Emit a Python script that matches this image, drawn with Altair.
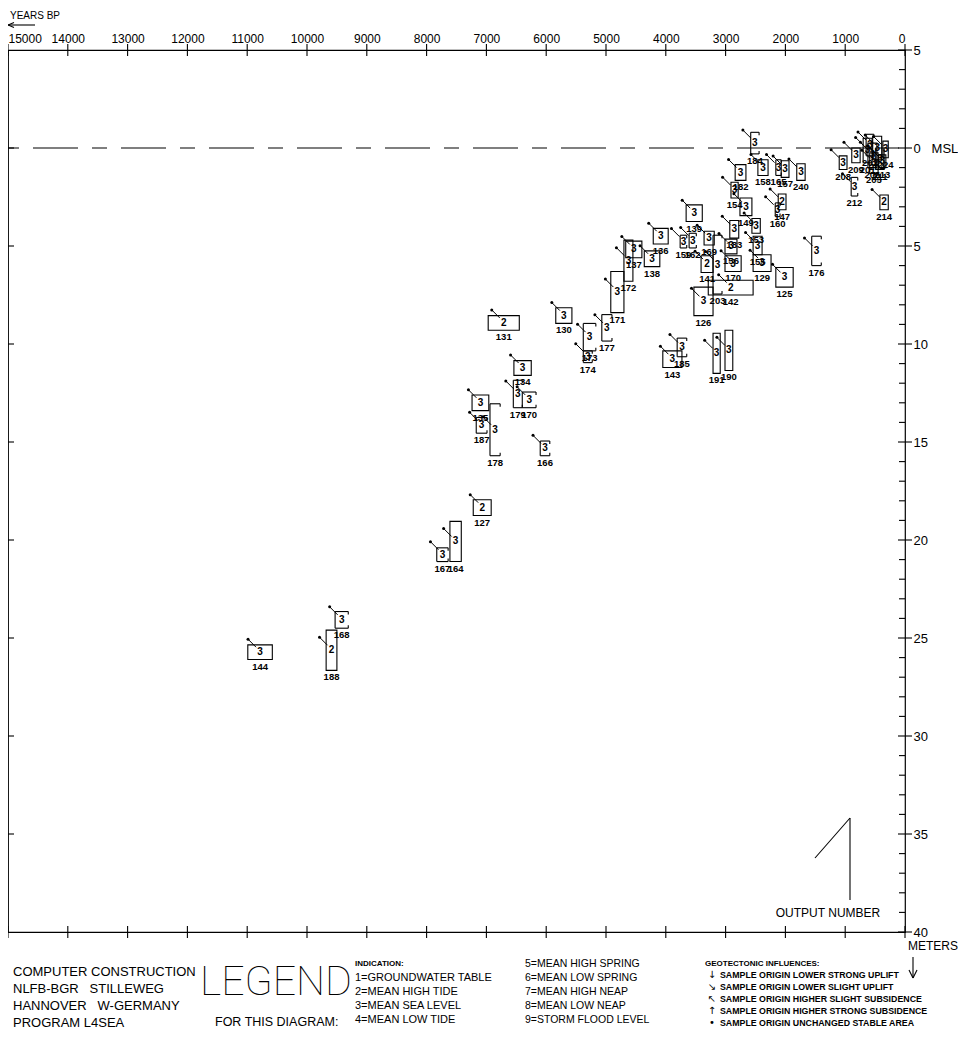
import altair as alt
import pandas as pd

# ---------------- data ----------------
sample_id = ["144","188","168","167","164","127","135","178","187","166",
             "131","130","134","179","170","171","177","173","174","172",
             "137","138","136","159","162","169","141","203","170","156",
             "183","142","126","129","155","125","176","184","182","154",
             "149","158","165","157","240","147","160","208","209","212",
             "214","139","153","185","143","191","190","201","206","204",
             "211","205","224","202","213"]
indication = [3,2,3,3,3,2,3,3,3,3, 2,3,3,3,3,3,3,3,3,3, 3,3,3,3,3,3,2,3,3,3,
              3,2,3,3,3,3,3,3,3,3, 3,3,3,3,3,2,3,3,3,3, 2,3,3,3,3,3,3,3,3,3,
              3,3,3,3,3]
shape = ["box","box","open","open","box","box","box","open","open","open",
         "box","box","box","open","open","box","open","open","open","box",
         "box","box","box","open","open","box","box","open","box","box",
         "box","box","box","box","box","box","open","open","box","box",
         "box","box","open","box","box","box","open","box","box","open",
         "box","box","box","open","box","box","box","box","box","box",
         "box","box","box","open","box"]
age_old = [10990,9680,9530,7830,7610,7220,7240,6940,7170,6100,
           6970,5840,6540,6550,6400,4920,5070,5380,5380,4700,
           4670,4360,4210,3760,3610,3360,3410,3210,3010,3010,
           2930,3290,3530,2540,2540,2160,1560,2580,2840,2910,
           2760,2460,2160,2070,1810,2120,2170,1100,890,900,
           420,3660,2560,3810,4050,3210,3010,700,620,540,
           490,590,370,650,440]
age_young = [10580,9500,9310,7640,7420,6920,6960,6770,6990,5940,
             6450,5570,6250,6400,6170,4700,4900,5170,5230,4550,
             4400,4100,3960,3650,3490,3190,3210,3060,2740,2810,
             2780,2540,3210,2240,2390,1870,1400,2440,2660,2790,
             2560,2290,2070,1940,1670,1990,2090,970,750,790,
             280,3390,2420,3650,3730,3090,2880,550,470,390,
             350,450,280,520,320]
depth_top = [25.35,24.6,23.65,20.4,19.05,17.95,12.6,13.05,13.75,14.95,
             8.55,8.15,10.85,11.85,12.45,6.3,8.5,8.95,10.35,4.7,
             4.75,5.25,4.1,4.45,4.35,4.25,5.5,4.45,5.5,4.65,
             3.7,6.75,7.1,5.45,4.5,6.1,4.5,-0.8,0.85,1.75,
             2.55,0.6,0.6,0.65,0.8,2.35,2.8,0.4,0.0,1.5,
             2.4,2.9,3.6,9.7,10.35,9.45,9.3,-0.5,-0.25,-0.6,
             0.0,0.25,-0.35,-0.7,0.35]
depth_bottom = [26.1,26.65,24.5,21.1,21.1,18.75,13.4,15.7,14.55,15.7,
                9.3,8.95,11.6,13.25,13.25,8.4,9.85,10.35,10.95,6.8,
                5.6,6.05,4.9,5.1,5.1,4.95,6.35,7.45,6.3,5.4,
                4.6,7.5,8.55,6.3,5.45,7.1,6.0,0.3,1.65,2.55,
                3.45,1.4,1.4,1.5,1.65,3.15,3.5,1.1,0.75,2.45,
                3.15,3.75,4.35,10.65,11.2,11.5,11.35,0.75,1.0,0.6,
                1.1,1.3,0.5,0.4,1.0]

x_ticks = [0,1000,2000,3000,4000,5000,6000,7000,8000,9000,10000,11000,12000,13000,14000,15000]
y_major = [-5,0,5,10,15,20,25,30,35,40]
y_minor = [-4,-3,-2,-1,1,2,3,4,6,7,8,9,11,12,13,14,16,17,18,19,21,22,23,24,
           26,27,28,29,31,32,33,34,36,37,38,39]
left_ticks = [0,5,10,15,20,25,30,35]
msl_level = [0]

NB = "\u00a0"
legend_left = ["COMPUTER CONSTRUCTION", "NLFB-BGR" + NB * 3 + "STILLEWEG",
               "HANNOVER" + NB * 3 + "W-GERMANY", "PROGRAM L4SEA"]
ind_col1 = ["1=GROUNDWATER TABLE", "2=MEAN HIGH TIDE", "3=MEAN SEA LEVEL", "4=MEAN LOW TIDE"]
ind_col2 = ["5=MEAN HIGH SPRING", "6=MEAN LOW SPRING", "7=MEAN HIGH NEAP", "8=MEAN LOW NEAP", "9=STORM FLOOD LEVEL"]
geo_symbols = ["↓", "↘", "↖", "↑", "•"]
geo_text = ["SAMPLE ORIGIN LOWER STRONG UPLIFT", "SAMPLE ORIGIN LOWER SLIGHT UPLIFT",
            "SAMPLE ORIGIN HIGHER SLIGHT SUBSIDENCE", "SAMPLE ORIGIN HIGHER STRONG SUBSIDENCE",
            "SAMPLE ORIGIN UNCHANGED STABLE AREA"]

# ---------------- chart ----------------
SANS = "Liberation Sans, Arial, sans-serif"
NARROW = "Liberation Sans Narrow, Liberation Sans, sans-serif"
W, H = 897, 882
LW = 1.1

df = pd.DataFrame({
    "id": sample_id,
    "ind": [str(v) for v in indication],
    "shape": shape,
    "old": age_old,
    "young": age_young,
    "top": depth_top,
    "bot": depth_bottom,
})

xs = alt.Scale(domain=[0, 15000], reverse=True, nice=False, zero=False)
ys = alt.Scale(domain=[-5, 40], reverse=True, nice=False, zero=False)

y_label_expr = "datum.value == 0 ? '0\u00a0\u00a0\u00a0MSL' : format(abs(datum.value), 'd')"
AX = alt.Axis(orient="top", values=x_ticks, format="d", labelFlush=True, labelPadding=5,
              title=None, labelFontSize=12, labelFont=NARROW, ticks=False, domain=False,
              grid=False, labelColor="black")
AY = alt.Axis(orient="right", values=y_major, labelExpr=y_label_expr, labelPadding=8,
              title=None, labelFontSize=13, labelFont=NARROW, labelAlign="left",
              labelBaseline="middle", ticks=False, domain=False, grid=False, labelColor="black")
X = lambda f: alt.X(f, scale=xs, axis=AX)
Y = lambda f: alt.Y(f, scale=ys, axis=AY)

base = alt.Chart(df).transform_calculate(
    cx="(datum.old + datum.young) / 2",
    cy="(datum.top + datum.bot) / 2",
)

boxes = base.transform_filter("datum.shape == 'box'").mark_rect(
    fillOpacity=0, stroke="black", strokeWidth=LW
).encode(x=X("old:Q"), x2="young:Q", y=Y("top:Q"), y2="bot:Q")

op = base.transform_filter("datum.shape == 'open'")
open_left = op.mark_rule(color="black", strokeWidth=LW).encode(x=X("old:Q"), y=Y("top:Q"), y2="bot:Q")
open_top = op.mark_rule(color="black", strokeWidth=LW).encode(x=X("old:Q"), x2="young:Q", y=Y("top:Q"))
open_bot = op.mark_rule(color="black", strokeWidth=LW).encode(x=X("old:Q"), x2="young:Q", y=Y("bot:Q"))
hook_top = op.mark_rule(color="black", strokeWidth=LW, y2Offset=3).encode(x=X("young:Q"), y=Y("top:Q"), y2="top:Q")
hook_bot = op.mark_rule(color="black", strokeWidth=LW, y2Offset=-3).encode(x=X("young:Q"), y=Y("bot:Q"), y2="bot:Q")

digits = base.mark_text(font=NARROW, fontSize=10, fontWeight="bold", align="center",
                        baseline="middle", color="black").encode(
    x=X("cx:Q"), y=Y("cy:Q"), text="ind:N")
numbers = base.mark_text(font=NARROW, fontSize=9.5, fontWeight="bold", align="center",
                         baseline="top", dy=2, color="black").encode(
    x=X("cx:Q"), y=Y("bot:Q"), text="id:N")
arrows = base.mark_rule(color="black", strokeWidth=1, xOffset=-4, yOffset=-5,
                        x2Offset=-12, y2Offset=-13).encode(
    x=X("cx:Q"), y=Y("cy:Q"), x2="cx:Q", y2="cy:Q")
dots = base.mark_circle(color="black", size=9, opacity=1, xOffset=-12, yOffset=-13).encode(
    x=X("cx:Q"), y=Y("cy:Q"))

msl = alt.Chart(pd.DataFrame({"d": msl_level})).mark_rule(
    color="black", strokeWidth=LW, strokeDash=[45, 14, 15, 14], strokeDashOffset=53
).encode(y=Y("d:Q"))

xt = pd.DataFrame({"v": x_ticks})
top_ticks = alt.Chart(xt).mark_rule(color="black", strokeWidth=LW).encode(
    x=X("v:Q"), y=alt.value(-6), y2=alt.value(6))
bot_ticks = alt.Chart(xt).mark_rule(color="black", strokeWidth=LW).encode(
    x=X("v:Q"), y=alt.value(H - 6), y2=alt.value(H + 6))
right_major = alt.Chart(pd.DataFrame({"v": y_major})).mark_rule(color="black", strokeWidth=LW).encode(
    y=Y("v:Q"), x=alt.value(W - 7), x2=alt.value(W + 7))
right_minor = alt.Chart(pd.DataFrame({"v": y_minor})).mark_rule(color="black", strokeWidth=LW).encode(
    y=Y("v:Q"), x=alt.value(W - 6), x2=alt.value(W))
left_tk = alt.Chart(pd.DataFrame({"v": left_ticks})).mark_rule(color="black", strokeWidth=LW).encode(
    y=Y("v:Q"), x=alt.value(0), x2=alt.value(6))

one = pd.DataFrame({"k": [0]})


def note(text, x, y, size, font=SANS, weight="normal", align="left", line_height=None, **kw):
    props = dict(text=text, font=font, fontSize=size, fontWeight=weight, align=align,
                 baseline="alphabetic", color="black")
    if line_height is not None:
        props["lineHeight"] = line_height
    props.update(kw)
    return alt.Chart(one).mark_text(**props).encode(x=alt.value(x), y=alt.value(y))


def seg(x1, y1, x2, y2, w=LW):
    return alt.Chart(one).mark_rule(color="black", strokeWidth=w).encode(
        x=alt.value(x1), y=alt.value(y1), x2=alt.value(x2), y2=alt.value(y2))


decor = [
    note("YEARS BP", 2, -31, 10),
    seg(0, -25, 27, -25), seg(0, -25, 6, -27.5), seg(0, -25, 6, -22.5),
    note("METERS", 900, 900, 12),
    seg(905, 907, 905, 928), seg(901, 920, 905, 928), seg(909, 920, 905, 928),
    seg(807, 808, 842, 768), seg(842, 768, 842, 850),
    note("OUTPUT NUMBER", 820, 867, 12, align="center"),
    note(legend_left, 5, 926, 13, line_height=17),
    note("LEGEND", 192, 945, 41, font="Roboto, Liberation Sans Narrow, sans-serif", weight=100),
    note("FOR THIS DIAGRAM:", 207, 976, 12.5),
    note("INDICATION:", 347, 916, 8, font=NARROW, weight="bold"),
    note(ind_col1, 347, 931, 11, line_height=14),
    note(ind_col2, 517, 917, 10.5, line_height=14),
    note("GEOTECTONIC INFLUENCES:", 697, 916, 8, font=NARROW, weight="bold"),
    note(geo_symbols, 704, 928, 10, font="DejaVu Sans", align="center", line_height=12),
    note(geo_text, 712, 928, 8.8, font=NARROW, weight="bold", line_height=12),
]

chart = alt.layer(
    msl, boxes, open_left, open_top, open_bot, hook_top, hook_bot,
    arrows, dots, digits, numbers,
    top_ticks, bot_ticks, right_major, right_minor, left_tk,
    *decor
).properties(
    width=W, height=H,
    padding={"left": 0, "top": 42, "right": 53, "bottom": 113},
    autosize=alt.AutoSizeParams(type="none"),
).configure_view(
    stroke="black", strokeWidth=1.2
)

chart.save("out.html", embed_options={"renderer": "svg", "actions": False})
